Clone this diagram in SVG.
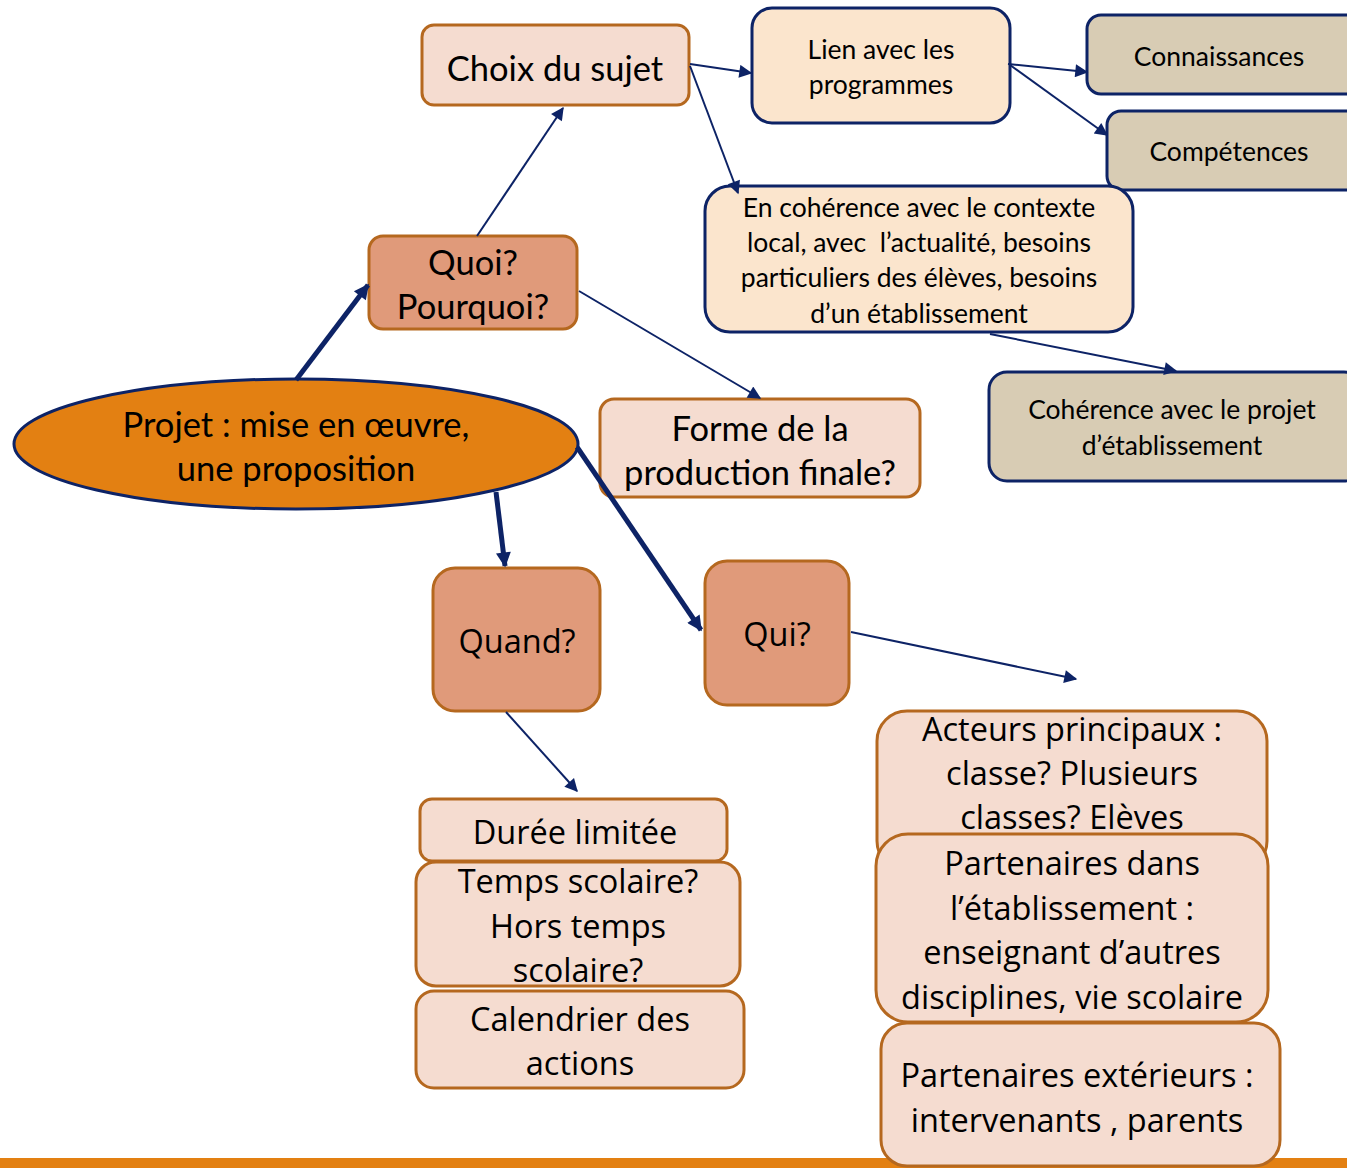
<svg xmlns="http://www.w3.org/2000/svg" width="1347" height="1168" viewBox="0 0 1347 1168">
<defs>
<style>
.pk{fill:#F5DCD0;stroke:#B5681F;stroke-width:3}
.dk{fill:#E09A7A;stroke:#B5681F;stroke-width:3}
.cr{fill:#FBE5CD;stroke:#0D2366;stroke-width:3}
.gy{fill:#D8CCB4;stroke:#0D2366;stroke-width:3}
.t{font-family:Lato,"Liberation Sans",sans-serif;fill:#000;text-anchor:middle;dominant-baseline:central}
.s{font-size:26.5px}
.b{font-size:34.5px}
.w{font-family:"Open Sans","Noto Sans",sans-serif;fill:#000;text-anchor:middle;dominant-baseline:central;font-size:32.5px}
.c{stroke:#0D2366;fill:none;stroke-width:2}
.ck{stroke:#0D2366;fill:none;stroke-width:5}
</style>
<marker id="a" viewBox="0 0 10 10" refX="9" refY="5" markerWidth="15" markerHeight="13" markerUnits="userSpaceOnUse" orient="auto"><path d="M0,0 L10,5 L0,10 z" fill="#0D2366"/></marker>
<marker id="ak" viewBox="0 0 10 10" refX="9" refY="5" markerWidth="18" markerHeight="15" markerUnits="userSpaceOnUse" orient="auto"><path d="M0,0 L10,5 L0,10 z" fill="#0D2366"/></marker>
</defs>
<rect width="1347" height="1168" fill="#fff"/>
<rect x="0" y="1158" width="1347" height="10" fill="#E38012"/>

<g id="choix"><rect class="pk" x="422" y="25" width="267" height="80" rx="12"/><text class="t b" x="555" y="67">Choix du sujet</text></g>
<g id="lien"><rect class="cr" x="752" y="8" width="258" height="115" rx="20"/><text class="t s" x="881" y="49">Lien avec les</text><text class="t s" x="881" y="84">programmes</text></g>
<g id="connaissances"><rect class="gy" x="1087" y="15" width="275" height="79" rx="14"/><text class="t s" x="1219" y="56">Connaissances</text></g>
<g id="competences"><rect class="gy" x="1107" y="111" width="255" height="79" rx="14"/><text class="t s" x="1229" y="151">Compétences</text></g>
<g id="coherence"><rect class="cr" x="705" y="186" width="428" height="146" rx="25"/>
<text class="t s" x="919" y="207">En cohérence avec le contexte</text>
<text class="t s" x="919" y="242" style="white-space:pre">local, avec  l’actualité, besoins</text>
<text class="t s" x="919" y="277">particuliers des élèves, besoins</text>
<text class="t s" x="919" y="313">d’un établissement</text></g>
<g id="projetetab"><rect class="gy" x="989" y="372" width="373" height="109" rx="18"/><text class="t s" x="1172" y="409">Cohérence avec le projet</text><text class="t s" x="1172" y="445">d’établissement</text></g>
<g id="quoi"><rect class="dk" x="369" y="236" width="208" height="93" rx="14"/><text class="t b" x="473" y="261">Quoi?</text><text class="t b" x="473" y="305">Pourquoi?</text></g>
<g id="projet"><ellipse cx="296" cy="444" rx="282" ry="65" fill="#E38012" stroke="#0D2366" stroke-width="3"/><text class="t b" x="296" y="423">Projet : mise en œuvre,</text><text class="t b" x="296" y="467">une proposition</text></g>
<g id="forme"><rect class="pk" x="600" y="399" width="320" height="98" rx="14"/><text class="t b" x="760" y="427">Forme de la</text><text class="t b" x="760" y="471">production finale?</text></g>
<g id="quand"><rect class="dk" x="433" y="568" width="167" height="143" rx="22"/><text class="w" x="517" y="640">Quand?</text></g>
<g id="qui"><rect class="dk" x="705" y="561" width="144" height="144" rx="22"/><text class="w" x="777" y="633">Qui?</text></g>
<g id="duree"><rect class="pk" x="420" y="799" width="307" height="62" rx="12"/><text class="w" x="575" y="831">Durée limitée</text></g>
<g id="temps"><rect class="pk" x="416" y="862" width="324" height="124" rx="20"/><text class="w" x="578" y="880">Temps scolaire?</text><text class="w" x="578" y="925">Hors temps</text><text class="w" x="578" y="969">scolaire?</text></g>
<g id="calendrier"><rect class="pk" x="416" y="991" width="328" height="97" rx="18"/><text class="w" x="580" y="1018">Calendrier des</text><text class="w" x="580" y="1062">actions</text></g>
<g id="acteurs"><rect class="pk" x="877" y="711" width="390" height="160" rx="30"/><text class="w" x="1072" y="728">Acteurs principaux :</text><text class="w" x="1072" y="772">classe? Plusieurs</text><text class="w" x="1072" y="816">classes? Elèves</text></g>
<g id="partenaires"><rect class="pk" x="876" y="834" width="392" height="188" rx="32"/><text class="w" x="1072" y="862">Partenaires dans</text><text class="w" x="1072" y="907">l’établissement :</text><text class="w" x="1072" y="951">enseignant d’autres</text><text class="w" x="1072" y="996">disciplines, vie scolaire</text></g>
<g id="exterieurs"><rect class="pk" x="881" y="1023" width="399" height="143" rx="26"/><text class="w" x="1077" y="1074">Partenaires extérieurs :</text><text class="w" x="1077" y="1119">intervenants , parents</text></g>

<g id="connectors">
<line class="ck" x1="296" y1="380" x2="368" y2="285" marker-end="url(#ak)"/>
<line class="c" x1="477" y1="236" x2="563" y2="108" marker-end="url(#a)"/>
<line class="c" x1="579" y1="291" x2="760" y2="398" marker-end="url(#a)"/>
<line class="c" x1="690" y1="64" x2="751" y2="73" marker-end="url(#a)"/>
<line class="c" x1="690" y1="66" x2="738" y2="193" marker-end="url(#a)"/>
<line class="c" x1="1008" y1="64" x2="1087" y2="72" marker-end="url(#a)"/>
<line class="c" x1="1010" y1="65" x2="1107" y2="135" marker-end="url(#a)"/>
<line class="c" x1="990" y1="334" x2="1176" y2="371" marker-end="url(#a)"/>
<line class="ck" x1="577" y1="447" x2="701" y2="630" marker-end="url(#ak)"/>
<line class="ck" x1="496" y1="492" x2="505" y2="566" marker-end="url(#ak)"/>
<line class="c" x1="506" y1="712" x2="577" y2="791" marker-end="url(#a)"/>
<line class="c" x1="851" y1="632" x2="1076" y2="679" marker-end="url(#a)"/>
</g>
</svg>
